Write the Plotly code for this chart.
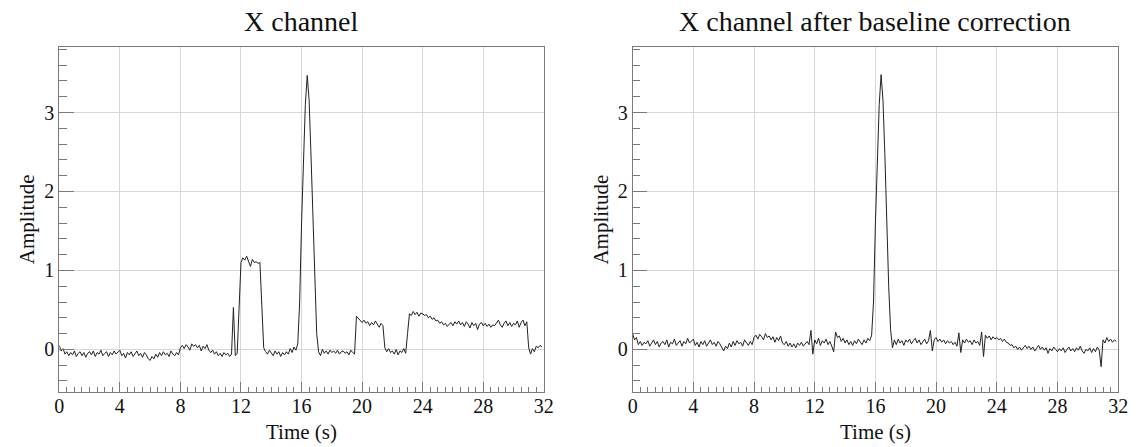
import plotly.graph_objects as go

# time axis: 0 .. 31.875 s in steps of 0.125 s
time_s = [i * 0.125 for i in range(256)]

# X channel (raw)
x_raw = [
    0.05, -0.02, 0.01, -0.06, -0.03, -0.08, -0.04, -0.07,
    -0.02, -0.09, -0.05, -0.03, -0.08, -0.04, -0.10, -0.05,
    -0.03, -0.07, -0.02, -0.09, -0.04, -0.06, -0.01, -0.08,
    -0.05, -0.03, -0.09, -0.04, -0.07, -0.02, -0.06, -0.03,
    -0.01, -0.08, -0.05, -0.11, -0.04, -0.07, -0.03, -0.09,
    -0.06, -0.02, -0.08, -0.05, -0.10, -0.04, -0.07, -0.12,
    -0.14, -0.09, -0.12, -0.06, -0.10, -0.04, -0.08, -0.03,
    -0.07, -0.05, -0.09, -0.02, -0.06, -0.08, -0.04, -0.07,
    0.02, 0.05, 0.01, 0.06, 0.03, -0.01, 0.07, 0.04,
    0.06, 0.02, 0.05, -0.02, 0.04, 0.01, 0.06, -0.01,
    -0.04, -0.01, -0.06, -0.03, -0.08, -0.05, -0.09, -0.04,
    -0.07, -0.05, -0.09, -0.06, 0.53, -0.08, -0.05, 0.55,
    1.10, 1.16, 1.13, 1.18, 1.12, 1.05, 1.14, 1.10,
    1.11, 1.09, 1.10, 0.55, 0.02, -0.03, -0.06, -0.01,
    -0.05, -0.08, -0.02, -0.06, -0.03, -0.09, -0.04, -0.07,
    -0.03, -0.06, 0.01, -0.04, 0.03, -0.01, 0.07, 0.60,
    1.60, 2.50, 3.10, 3.47, 3.15, 2.45, 1.60, 0.80,
    0.20, -0.03, -0.08, 0.00, -0.05, -0.02, -0.06, -0.01,
    -0.04, -0.02, -0.05, -0.01, -0.06, -0.03, -0.02, -0.05,
    -0.03, -0.07, -0.01, -0.04, -0.06, 0.42, 0.39, 0.36,
    0.34, 0.37, 0.33, 0.35, 0.30, 0.34, 0.31, 0.36,
    0.32, 0.28, 0.33, 0.30, 0.02, -0.03, 0.01, -0.04,
    -0.02, -0.06, 0.00, -0.07, -0.02, -0.04, 0.01, -0.05,
    0.20, 0.45, 0.43, 0.48, 0.44, 0.47, 0.42, 0.46,
    0.45, 0.43, 0.44, 0.40, 0.42, 0.38, 0.40, 0.36,
    0.37, 0.33, 0.35, 0.31, 0.33, 0.29, 0.32, 0.34,
    0.30, 0.35, 0.32, 0.36, 0.31, 0.34, 0.29, 0.35,
    0.32, 0.27, 0.34, 0.30, 0.33, 0.25, 0.32, 0.34,
    0.30, 0.33, 0.29, 0.32, 0.28, 0.31, 0.30, 0.34,
    0.37, 0.31, 0.28, 0.33, 0.36, 0.30, 0.34, 0.29,
    0.33, 0.31, 0.36, 0.28, 0.34, 0.37, 0.30, 0.35,
    0.02, -0.06, 0.01, -0.03, 0.04, 0.02, 0.05, 0.03,
]

# X channel after baseline correction
x_corrected = [
    0.20, 0.12, 0.15, 0.06, 0.10, 0.05, 0.09, 0.07,
    0.11, 0.04, 0.08, 0.12, 0.06, 0.10, 0.03, 0.08,
    0.10, 0.06, 0.12, 0.03, 0.09, 0.07, 0.13, 0.05,
    0.08, 0.11, 0.04, 0.10, 0.07, 0.14, 0.08, 0.11,
    0.13, 0.05, 0.09, 0.03, 0.10, 0.06, 0.11, 0.04,
    0.08, 0.12, 0.06, 0.09, 0.04, 0.10, 0.07, 0.02,
    -0.02, 0.04, 0.01, 0.08, 0.03, 0.10, 0.05, 0.11,
    0.07, 0.09, 0.04, 0.12, 0.08, 0.05, 0.10, 0.06,
    0.15, 0.18, 0.13, 0.19, 0.16, 0.12, 0.20, 0.15,
    0.17, 0.12, 0.16, 0.09, 0.15, 0.11, 0.17, 0.08,
    0.06, 0.10, 0.04, 0.08, 0.03, 0.07, 0.02, 0.08,
    0.05, 0.09, 0.04, 0.07, 0.10, 0.06, 0.24, -0.06,
    0.12, 0.07, 0.14, 0.05, 0.11, 0.08, 0.13, 0.06,
    0.10, 0.04, -0.03, 0.22, 0.15, 0.17, 0.10, 0.14,
    0.08, 0.12, 0.06, 0.10, 0.05, 0.11, 0.07, 0.13,
    0.09, 0.06, 0.12, 0.08, 0.14, 0.11, 0.18, 0.60,
    1.60, 2.50, 3.10, 3.48, 3.15, 2.45, 1.60, 0.80,
    0.25, 0.02, 0.12, 0.06, 0.13, 0.08, 0.11, 0.05,
    0.12, 0.09, 0.13, 0.07, 0.11, 0.14, 0.08, 0.12,
    0.06, 0.10, 0.13, 0.07, 0.11, 0.24, -0.02, 0.12,
    0.15, 0.10, 0.13, 0.09, 0.12, 0.07, 0.11, 0.08,
    0.10, 0.06, 0.09, 0.04, 0.21, -0.04, 0.12, 0.08,
    0.13, 0.09, 0.11, 0.06, 0.12, 0.08, 0.10, 0.05,
    0.22, -0.09, 0.18, 0.14, 0.17, 0.12, 0.16, 0.13,
    0.15, 0.12, 0.14, 0.10, 0.13, 0.09, 0.08, 0.05,
    0.06, 0.02, 0.04, 0.00, 0.03, -0.01, 0.02, 0.05,
    0.01, 0.04, 0.00, 0.03, -0.02, 0.02, 0.05, 0.00,
    0.03, -0.01, 0.02, -0.05, 0.01, -0.02, 0.03, 0.00,
    -0.03, 0.01, -0.02, 0.02, -0.04, 0.00, 0.03, -0.02,
    0.01, -0.03, 0.02, -0.01, 0.04, -0.02, -0.05, 0.00,
    -0.02, 0.02, -0.04, 0.01, -0.03, 0.03, -0.01, -0.22,
    0.12, 0.08, 0.15, 0.10, 0.13, 0.09, 0.12, 0.10,
]

panel_titles = ["X channel", "X channel after baseline correction"]
x_title = "Time (s)"
y_title = "Amplitude"
x_ticks = [0, 4, 8, 12, 16, 20, 24, 28, 32]
y_ticks = [0, 1, 2, 3]

W, H = 1142, 447
FONT = "Liberation Serif, Times New Roman, serif"
frame_color = "#7a7a7a"
grid_color = "#d6d6d6"
line_color = "#222222"
text_color = "#111111"

# pixel geometry of the two plot frames
panels = [(55, 546), (636, 1128)]
top_px, bot_px = 47, 392


def px_x(v):
    return v / W


def px_y(v):
    return 1 - v / H


ydom = [px_y(bot_px), px_y(top_px)]

fig = go.Figure()
series = [x_raw, x_corrected]
for i, (ys, (l, r)) in enumerate(zip(series, panels)):
    suffix = "" if i == 0 else str(i + 1)
    fig.add_trace(go.Scatter(
        x=time_s, y=ys, mode="lines",
        line=dict(color=line_color, width=1),
        xaxis="x" + suffix, yaxis="y" + suffix, showlegend=False,
        hoverinfo="skip",
    ))
    xdom = [px_x(l), px_x(r)]
    ytick_len = 0.03 * (r - l)
    xtick_len = 0.03 * (bot_px - top_px)
    fig.update_layout(**{
        "xaxis" + suffix: dict(
            domain=xdom, range=[0, 32], anchor="y" + suffix,
            tickvals=x_ticks, ticktext=[str(v) for v in x_ticks],
            ticks="inside", ticklen=xtick_len, tickcolor=frame_color, tickwidth=1,
            minor=dict(dtick=0.5, tick0=0, ticks="inside", ticklen=xtick_len / 2,
                       tickcolor=frame_color, showgrid=False),
            showgrid=True, gridcolor=grid_color, gridwidth=1,
            showline=True, linecolor=frame_color, linewidth=1, mirror=True,
            zeroline=False, tickfont=dict(family=FONT, size=20, color=text_color),
            ticklabelstandoff=-4,
        ),
        "yaxis" + suffix: dict(
            domain=ydom, range=[-0.54, 3.83], anchor="x" + suffix,
            tickvals=y_ticks, ticktext=[str(v) for v in y_ticks],
            ticks="inside", ticklen=ytick_len, tickcolor=frame_color, tickwidth=1,
            minor=dict(dtick=0.2, tick0=0, ticks="inside", ticklen=ytick_len / 2,
                       tickcolor=frame_color, showgrid=False),
            showgrid=True, gridcolor=grid_color, gridwidth=1,
            showline=True, linecolor=frame_color, linewidth=1, mirror=True,
            zeroline=False, tickfont=dict(family=FONT, size=20, color=text_color),
            ticklabelstandoff=0,
        ),
    })
    cx = px_x((l + r) / 2)
    fig.add_annotation(text=panel_titles[i], x=cx, y=px_y(22), xref="paper", yref="paper",
                       xanchor="center", yanchor="middle", showarrow=False, borderpad=0,
                       font=dict(family=FONT, size=28, color=text_color))
    fig.add_annotation(text=x_title, x=cx, y=px_y(432), xref="paper", yref="paper",
                       xanchor="center", yanchor="middle", showarrow=False, borderpad=0,
                       font=dict(family=FONT, size=21, color=text_color))
    fig.add_annotation(text=y_title, x=px_x(l - 33), y=(ydom[0] + ydom[1]) / 2,
                       xref="paper", yref="paper", textangle=-90,
                       xanchor="center", yanchor="middle", showarrow=False,
                       font=dict(family=FONT, size=21, color=text_color))

fig.update_layout(
    width=W, height=H,
    margin=dict(l=0, r=0, t=0, b=0),
    paper_bgcolor="white", plot_bgcolor="white",
)

# remove the page's default body margin so the figure fills the window exactly
fig.write_html(
    "out.html",
    config={"displayModeBar": False, "staticPlot": True},
    post_script="document.body.style.margin='0';document.body.style.overflow='hidden';",
)
